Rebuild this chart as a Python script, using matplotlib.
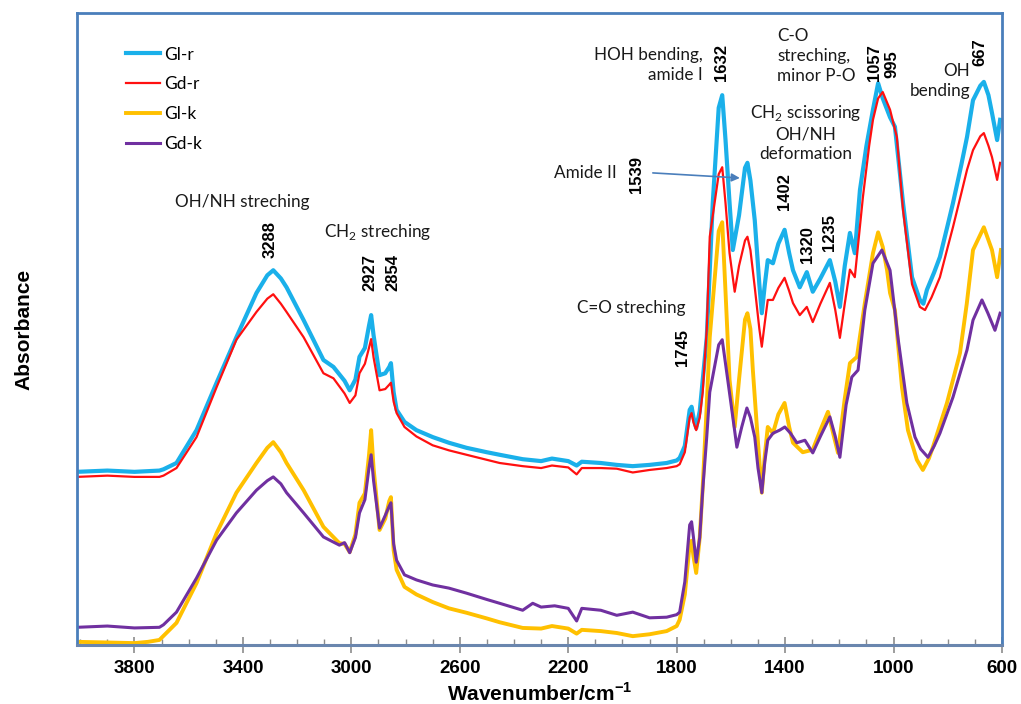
"""
FTIR spectra of the four gelatin samples, stacked, with band assignments
"""

import numpy as np
import matplotlib
matplotlib.use("Agg")
import matplotlib.pyplot as plt
from matplotlib.ticker import MultipleLocator

# ---- spectra: wavenumber [cm-1] and absorbance (arbitrary, offset) ----
wn_glr = [4012, 3900, 3800, 3708, 3693, 3645, 3571, 3497, 3424, 3350, 3310, 3288, 3260, 3239, 3176, 3103,
          3066, 3025, 3006, 2985, 2970, 2950, 2935, 2927, 2918, 2896, 2875, 2860, 2854, 2844, 2833, 2804,
          2760, 2700, 2640, 2575, 2500, 2453, 2368, 2300, 2260, 2200, 2169, 2150, 2080, 2021, 1962, 1900,
          1837, 1800, 1789, 1770, 1752, 1745, 1738, 1728, 1715, 1704, 1689, 1667, 1645, 1632, 1620, 1605,
          1593, 1570, 1548, 1539, 1528, 1512, 1495, 1486, 1475, 1464, 1445, 1425, 1402, 1385, 1371, 1346,
          1320, 1298, 1270, 1235, 1215, 1198, 1180, 1161, 1143, 1124, 1100, 1076, 1057, 1040, 1013, 995,
          980, 965, 932, 903, 890, 877, 850, 829, 800, 781, 750, 729, 707, 680, 667, 650, 637, 618, 607]
abs_glr = [0.274, 0.276, 0.274, 0.276, 0.278, 0.288, 0.340, 0.415, 0.487, 0.557, 0.585, 0.593, 0.580, 0.566, 0.514, 0.451,
           0.440, 0.418, 0.403, 0.420, 0.456, 0.470, 0.505, 0.522, 0.490, 0.427, 0.430, 0.440, 0.446, 0.400, 0.372, 0.353,
           0.340, 0.329, 0.320, 0.312, 0.305, 0.301, 0.294, 0.291, 0.295, 0.291, 0.284, 0.290, 0.288, 0.285, 0.283, 0.285,
           0.288, 0.292, 0.296, 0.315, 0.372, 0.377, 0.360, 0.343, 0.370, 0.419, 0.487, 0.699, 0.850, 0.870, 0.800, 0.700,
           0.625, 0.680, 0.755, 0.763, 0.735, 0.672, 0.570, 0.525, 0.570, 0.609, 0.604, 0.635, 0.657, 0.620, 0.593, 0.566,
           0.590, 0.559, 0.580, 0.609, 0.575, 0.535, 0.600, 0.652, 0.620, 0.720, 0.790, 0.847, 0.889, 0.865, 0.835, 0.820,
           0.760, 0.699, 0.582, 0.546, 0.540, 0.562, 0.590, 0.614, 0.665, 0.699, 0.760, 0.804, 0.862, 0.885, 0.891, 0.870,
           0.842, 0.799, 0.831]

wn_gdr = [4012, 3900, 3800, 3708, 3693, 3645, 3571, 3497, 3424, 3350, 3310, 3288, 3260, 3239, 3176, 3103,
          3066, 3025, 3006, 2985, 2970, 2950, 2935, 2927, 2918, 2896, 2875, 2860, 2854, 2844, 2833, 2804,
          2760, 2700, 2640, 2575, 2500, 2453, 2368, 2300, 2260, 2200, 2169, 2150, 2080, 2021, 1962, 1900,
          1837, 1800, 1789, 1770, 1752, 1745, 1738, 1728, 1715, 1704, 1689, 1678, 1645, 1632, 1620, 1605,
          1586, 1570, 1548, 1539, 1528, 1512, 1495, 1486, 1475, 1464, 1445, 1425, 1402, 1385, 1371, 1346,
          1320, 1298, 1270, 1235, 1215, 1198, 1180, 1161, 1143, 1113, 1090, 1076, 1057, 1040, 1013, 988,
          965, 932, 903, 884, 860, 829, 800, 781, 750, 729, 707, 680, 667, 650, 637, 618, 607]
abs_gdr = [0.266, 0.268, 0.266, 0.266, 0.268, 0.280, 0.329, 0.408, 0.483, 0.527, 0.548, 0.555, 0.540, 0.527, 0.487, 0.430,
           0.422, 0.398, 0.383, 0.395, 0.430, 0.445, 0.470, 0.484, 0.455, 0.403, 0.405, 0.412, 0.415, 0.385, 0.367, 0.345,
           0.330, 0.316, 0.308, 0.301, 0.293, 0.288, 0.283, 0.280, 0.284, 0.281, 0.270, 0.280, 0.280, 0.279, 0.273, 0.277,
           0.280, 0.283, 0.286, 0.305, 0.360, 0.367, 0.352, 0.340, 0.360, 0.400, 0.500, 0.646, 0.745, 0.756, 0.700, 0.620,
           0.559, 0.600, 0.640, 0.646, 0.625, 0.566, 0.500, 0.472, 0.510, 0.546, 0.546, 0.565, 0.581, 0.560, 0.541, 0.522,
           0.535, 0.511, 0.540, 0.573, 0.530, 0.486, 0.540, 0.594, 0.582, 0.709, 0.790, 0.831, 0.865, 0.875, 0.847, 0.804,
           0.688, 0.571, 0.535, 0.530, 0.550, 0.582, 0.630, 0.661, 0.715, 0.752, 0.783, 0.805, 0.810, 0.790, 0.772, 0.736,
           0.763]

wn_glk = [4012, 3900, 3800, 3750, 3708, 3645, 3571, 3497, 3424, 3350, 3310, 3288, 3260, 3239, 3176, 3103,
          3044, 3025, 3006, 2985, 2970, 2950, 2935, 2927, 2918, 2896, 2875, 2860, 2854, 2844, 2833, 2804,
          2760, 2700, 2640, 2575, 2500, 2453, 2368, 2300, 2260, 2200, 2169, 2150, 2080, 2021, 1962, 1900,
          1837, 1800, 1789, 1770, 1752, 1745, 1738, 1728, 1715, 1704, 1689, 1678, 1645, 1632, 1620, 1605,
          1586, 1570, 1548, 1539, 1528, 1519, 1500, 1486, 1475, 1464, 1445, 1425, 1402, 1385, 1371, 1335,
          1298, 1270, 1242, 1220, 1205, 1180, 1161, 1135, 1106, 1076, 1057, 1040, 1024, 1013, 995, 969,
          947, 914, 892, 870, 855, 803, 755, 730, 707, 667, 637, 618, 604]
abs_glk = [0.005, 0.004, 0.003, 0.005, 0.008, 0.035, 0.098, 0.177, 0.241, 0.288, 0.312, 0.321, 0.305, 0.288, 0.245, 0.187,
           0.161, 0.160, 0.147, 0.175, 0.225, 0.240, 0.300, 0.340, 0.280, 0.182, 0.200, 0.228, 0.234, 0.150, 0.119, 0.092,
           0.080, 0.068, 0.058, 0.051, 0.042, 0.036, 0.027, 0.026, 0.030, 0.026, 0.018, 0.024, 0.022, 0.019, 0.014, 0.017,
           0.022, 0.030, 0.040, 0.080, 0.160, 0.165, 0.140, 0.114, 0.170, 0.250, 0.380, 0.487, 0.655, 0.669, 0.560, 0.420,
           0.345, 0.420, 0.515, 0.525, 0.500, 0.435, 0.320, 0.241, 0.300, 0.345, 0.335, 0.365, 0.383, 0.345, 0.320, 0.305,
           0.309, 0.340, 0.369, 0.330, 0.304, 0.390, 0.446, 0.456, 0.541, 0.620, 0.653, 0.630, 0.593, 0.557, 0.530, 0.408,
           0.340, 0.293, 0.277, 0.295, 0.313, 0.383, 0.462, 0.540, 0.625, 0.661, 0.625, 0.582, 0.625]

wn_gdk = [4012, 3900, 3800, 3708, 3693, 3645, 3571, 3497, 3424, 3350, 3310, 3288, 3260, 3239, 3176, 3103,
          3044, 3025, 3006, 2985, 2970, 2950, 2935, 2927, 2918, 2896, 2875, 2860, 2854, 2844, 2833, 2804,
          2760, 2700, 2640, 2575, 2500, 2453, 2368, 2331, 2300, 2250, 2200, 2169, 2150, 2080, 2021, 1962,
          1900, 1837, 1800, 1789, 1770, 1752, 1745, 1738, 1728, 1715, 1704, 1689, 1678, 1645, 1632, 1615,
          1600, 1578, 1560, 1541, 1528, 1512, 1500, 1486, 1475, 1464, 1445, 1420, 1401, 1380, 1357, 1327,
          1298, 1270, 1235, 1215, 1198, 1175, 1154, 1131, 1106, 1076, 1043, 1013, 984, 951, 921, 900,
          873, 850, 829, 781, 729, 707, 674, 652, 626, 607]
abs_gdk = [0.028, 0.030, 0.027, 0.028, 0.032, 0.052, 0.106, 0.166, 0.209, 0.245, 0.260, 0.266, 0.255, 0.241, 0.209, 0.171,
           0.158, 0.162, 0.146, 0.170, 0.209, 0.230, 0.280, 0.301, 0.260, 0.185, 0.205, 0.220, 0.225, 0.160, 0.134, 0.111,
           0.103, 0.095, 0.090, 0.082, 0.072, 0.066, 0.055, 0.066, 0.060, 0.062, 0.058, 0.038, 0.058, 0.055, 0.047, 0.052,
           0.043, 0.044, 0.048, 0.052, 0.100, 0.190, 0.195, 0.170, 0.131, 0.170, 0.245, 0.330, 0.400, 0.475, 0.483, 0.430,
           0.383, 0.313, 0.345, 0.375, 0.360, 0.329, 0.280, 0.241, 0.290, 0.324, 0.335, 0.340, 0.345, 0.335, 0.320, 0.324,
           0.304, 0.330, 0.361, 0.330, 0.297, 0.380, 0.424, 0.435, 0.530, 0.604, 0.625, 0.593, 0.487, 0.383, 0.329, 0.310,
           0.297, 0.315, 0.335, 0.392, 0.467, 0.514, 0.546, 0.525, 0.498, 0.525]

series = [
    ("Gl-r", wn_glr, abs_glr, "#1AB0EA", 3.0),
    ("Gd-r", wn_gdr, abs_gdr, "#FF1010", 1.6),
    ("Gl-k", wn_glk, abs_glk, "#FFC000", 2.8),
    ("Gd-k", wn_gdk, abs_gdk, "#7030A0", 2.2),
]

# peak labels (wavenumber text, x, y)
peak_labels = [("3288", 3300, 0.641), ("2927", 2933, 0.589), ("2854", 2848, 0.589),
               ("1745", 1777, 0.470), ("1539", 1947, 0.744), ("1632", 1633, 0.922),
               ("1402", 1401, 0.717), ("1320", 1316, 0.634), ("1235", 1235, 0.653),
               ("1057", 1072, 0.922), ("995", 1006, 0.919), ("667", 681, 0.938)]

note_font = "Lato"
plt.rcParams["mathtext.fontset"] = "custom"
plt.rcParams["mathtext.rm"] = note_font

fig = plt.figure(figsize=(10.21, 7.04), dpi=100)
ax = fig.add_axes([0.0754, 0.0838, 0.906, 0.8977])

for name, wn, ab, col, lw in series:
    ax.plot(wn, ab, color=col, linewidth=lw, label=name, solid_joinstyle="round")

ax.set_xlim(4012, 600)
ax.set_ylim(0, 1)
ax.xaxis.set_minor_locator(MultipleLocator(100))
ax.set_xticks(np.arange(3800, 599, -400))
ax.set_yticks([])
ax.tick_params(axis="x", which="major", direction="inout", length=11, width=1.2,
               color="#8c8c8c", pad=5)
ax.tick_params(axis="x", which="minor", direction="in", length=4, width=1.0, color="#8c8c8c")
for lbl in ax.get_xticklabels():
    lbl.set_fontfamily("Liberation Sans")
    lbl.set_fontweight("bold")
    lbl.set_fontsize(13.5)

for side in ["left", "right", "top"]:
    ax.spines[side].set_color("#4A7EBB")
    ax.spines[side].set_linewidth(2.0)
ax.spines["bottom"].set_color("#6A86AE")
ax.spines["bottom"].set_linewidth(2.2)

ax.set_xlabel("Wavenumber/cm$^{\\mathregular{-1}}$", fontfamily="Liberation Sans",
              fontweight="bold", fontsize=15, labelpad=4)
ax.set_ylabel("Absorbance", fontfamily="Liberation Sans", fontweight="bold",
              fontsize=15, labelpad=31)

leg = ax.legend(loc="upper left", bbox_to_anchor=(0.045, 0.958), frameon=False,
                prop={"family": note_font, "size": 12.5}, handlelength=2.0,
                handletextpad=0.2, labelspacing=0.8, borderaxespad=0)

# band assignments
nf = dict(fontfamily=note_font, fontsize=12.3, color="#1a1a1a")
ax.text(3401, 0.701, "OH/NH streching", ha="center", va="center", **nf)
ax.text(2903, 0.653, "CH$_\\mathregular{2}$ streching", ha="center", va="center", **nf)
ax.text(1966, 0.533, "C=O streching", ha="center", va="center", **nf)
ax.text(2135, 0.747, "Amide II", ha="center", va="center", **nf)
ax.text(1704, 0.918, "HOH bending,\namide I", ha="right", va="center",
        multialignment="right", linespacing=1.3, **nf)
ax.text(1430, 0.932, "C-O\nstreching,\nminor P-O", ha="left", va="center",
        multialignment="left", linespacing=1.3, **nf)
ax.text(1323, 0.811, "CH$_\\mathregular{2}$ scissoring\nOH/NH\ndeformation", ha="center",
        va="center", multialignment="center", linespacing=1.3, **nf)
ax.text(718, 0.892, "OH\nbending", ha="right", va="center", multialignment="right",
        linespacing=1.3, **nf)
ax.annotate("", xy=(1567, 0.739), xytext=(1888, 0.747),
            arrowprops=dict(arrowstyle="-|>", color="#4A7EBB", lw=1.2,
                            mutation_scale=12, shrinkA=0, shrinkB=0))

for txt, x, y in peak_labels:
    ax.text(x, y, txt, rotation=90, ha="center", va="center",
            fontfamily="Liberation Sans", fontweight="bold", fontsize=12)

fig.savefig("out.png", dpi=100)
